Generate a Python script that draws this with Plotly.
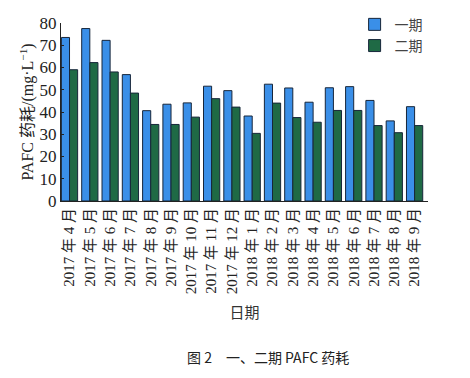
import plotly.graph_objects as go

categories = ["2017 年 4 月", "2017 年 5 月", "2017 年 6 月", "2017 年 7 月", "2017 年 8 月",
              "2017 年 9 月", "2017 年 10 月", "2017 年 11 月", "2017 年 12 月", "2018 年 1 月",
              "2018 年 2 月", "2018 年 3 月", "2018 年 4 月", "2018 年 5 月", "2018 年 6 月",
              "2018 年 7 月", "2018 年 8 月", "2018 年 9 月"]
phase1 = [73.5, 77.5, 72.2, 56.8, 40.6, 43.5, 44.1, 51.6, 49.6, 38.2, 52.5, 50.8, 44.4, 50.9, 51.4, 45.2, 36.0, 42.4]
phase2 = [59.0, 62.2, 58.0, 48.5, 34.4, 34.4, 37.7, 46.0, 42.2, 30.4, 44.0, 37.5, 35.4, 40.7, 40.7, 33.9, 30.7, 33.9]
series_names = ["一期", "二期"]

serif = "Liberation Serif, Times New Roman, Noto Sans CJK SC, serif"
cjk = "Noto Sans CJK SC, Liberation Serif, serif"

x = list(range(len(categories)))
fig = go.Figure()
fig.add_trace(go.Bar(x=x, y=phase1, name=series_names[0],
                     marker=dict(color="#3a8fe8", line=dict(color="#17263a", width=1))))
fig.add_trace(go.Bar(x=x, y=phase2, name=series_names[1],
                     marker=dict(color="#1f6a45", line=dict(color="#17263a", width=1))))

fig.update_layout(
    width=462, height=370,
    margin=dict(l=53, r=42, t=15, b=177, autoexpand=False),
    paper_bgcolor="white", plot_bgcolor="white",
    barmode="group", bargap=0.2, bargroupgap=0,
    font=dict(family=serif, size=15, color="#222"),
    showlegend=True,
    legend=dict(x=0.80, y=1.08, xanchor="left", yanchor="top",
                font=dict(family=cjk, size=14, color="#444"),
                bgcolor="rgba(0,0,0,0)", itemwidth=30, tracegroupgap=0),
    xaxis=dict(
        tickmode="array", tickvals=x, ticktext=categories, tickangle=-90,
        range=[-0.42, 17.66], showline=True, linecolor="#222", linewidth=1.2,
        ticks="", showgrid=False, zeroline=False, automargin=False,
        tickfont=dict(family=serif, size=15, color="#222"),
        title=dict(text="日期", font=dict(family=cjk, size=15, color="#333"), standoff=14),
    ),
    yaxis=dict(
        range=[0, 80], tickvals=[0, 10, 20, 30, 40, 50, 60, 70, 80],
        showline=True, linecolor="#222", linewidth=1.2,
        ticks="inside", ticklen=3, tickcolor="#222",
        showgrid=False, zeroline=False, automargin=False,
        tickfont=dict(family=serif, size=17, color="#222"),
        title=dict(text="PAFC 药耗/(mg·L<sup>−1</sup>)", font=dict(family=serif, size=16, color="#222"), standoff=1),
    ),
)

fig.add_annotation(text="图 2　一、二期 PAFC 药耗", xref="paper", yref="paper",
                   x=(260 - 53) / 367, y=(193 - 349) / 178, xanchor="center", yanchor="middle",
                   showarrow=False, font=dict(family="Noto Sans CJK SC, sans-serif", size=14, color="#222"))

fig.write_html("out.html")
